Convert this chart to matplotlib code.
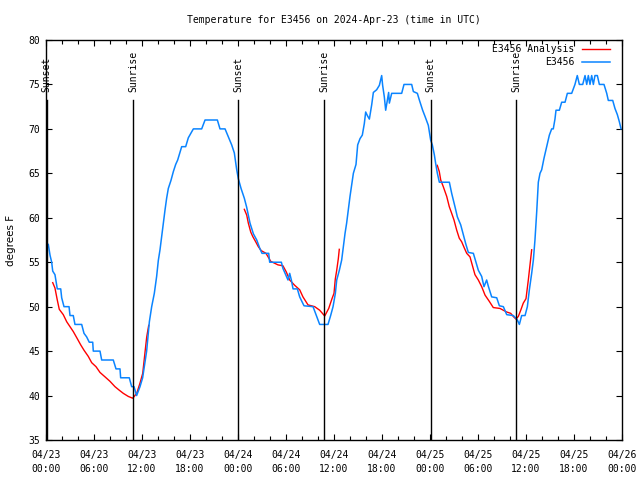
import pandas as pd
import matplotlib
matplotlib.use('Agg')
import matplotlib.pyplot as plt
import matplotlib.dates as mdates
import matplotlib.transforms as mtransforms

start = pd.Timestamp('2024-04-23 00:00')

# observed station temperature (hours since start, deg F)
obs_hours = [0.29, 0.5, 0.71, 0.84, 1.12, 1.33, 1.41, 1.84, 1.96, 2.25, 2.88, 3.0, 3.41, 3.62, 4.46,
             4.75, 5.08, 5.41, 5.84, 5.91, 6.75, 6.96, 8.41, 8.75, 9.25, 9.33, 10.41, 10.71, 11.0,
             11.33, 11.75, 12.08, 12.58, 12.79, 12.92, 13.21, 13.54, 13.83, 14.04, 14.25, 14.46,
             14.66, 14.88, 15.08, 15.29, 15.62, 15.92, 16.21, 16.46, 16.96, 17.46, 17.79, 18.42,
             19.46, 19.88, 21.42, 21.75, 22.38, 22.79, 23.21, 23.54, 23.84, 24.04, 24.38, 24.79,
             25.08, 25.5, 25.92, 26.34, 26.75, 27.0, 27.84, 27.96, 29.42, 29.62, 30.25, 30.46,
             30.67, 30.88, 31.42, 31.71, 32.25, 33.38, 33.79, 34.21, 35.25, 35.58, 35.88, 36.17,
             36.34, 36.67, 36.96, 37.17, 37.38, 37.58, 37.79, 38.0, 38.21, 38.42, 38.75, 38.96,
             39.25, 39.54, 39.79, 39.96, 40.17, 40.42, 40.71, 40.92, 41.33, 41.67, 41.96, 42.08,
             42.29, 42.46, 42.67, 42.83, 42.92, 43.21, 44.46, 44.75, 45.71, 45.92, 46.42, 46.67,
             47.08, 47.38, 47.79, 48.08, 48.29, 48.54, 48.71, 48.92, 49.17, 50.42, 50.71, 51.12,
             51.42, 51.84, 52.17, 52.46, 52.79, 53.42, 53.75, 54.04, 54.46, 54.75, 55.08, 55.29,
             55.71, 56.34, 56.67, 57.17, 57.59, 58.42, 58.92, 59.17, 59.46, 59.88, 60.17, 60.42,
             60.71, 60.92, 61.12, 61.34, 61.54, 61.75, 61.96, 62.25, 62.59, 62.92, 63.21, 63.41,
             63.62, 63.75, 64.17, 64.46, 64.88, 65.17, 65.71, 66.12, 66.41, 66.67, 67.09, 67.38,
             67.59, 67.79, 68.0, 68.21, 68.42, 68.62, 68.92, 69.17, 69.75, 70.09, 70.29, 70.84,
             71.12, 71.42, 71.67, 71.88]
obs_temps = [57, 55.8, 55, 54, 53.6, 52.4, 52, 52, 51, 50, 50, 49, 49, 48, 48,
             47, 46.6, 46, 46, 45, 45, 44, 44, 43, 43, 42, 42, 41, 41,
             40, 41, 42, 45, 47, 48.3, 50, 51.5, 53.4, 55.2, 56.4, 57.9,
             59.4, 60.9, 62.2, 63.3, 64.2, 65.2, 66, 66.5, 68, 68, 69, 70,
             70, 71, 71, 70, 70, 69.1, 68.2, 67.3, 65.4, 64.4, 63.3, 62.2,
             61.2, 59.4, 58.2, 57.5, 56.5, 56, 56, 55, 55, 54.3, 53, 53.75,
             53, 52, 52, 51.1, 50.1, 50, 49, 48, 48, 49, 50, 51.5,
             53, 54.1, 55.25, 56.75, 58.25, 59.4, 60.9, 62.4, 63.7, 65, 66, 68.2,
             68.9, 69.3, 70.6, 71.9, 71.5, 71.1, 72.7, 74.1, 74.4, 74.9, 76, 74.9,
             73.6, 72.1, 73.25, 74.1, 72.9, 74, 74, 75, 75, 74.2, 74, 73.25,
             72.1, 71.4, 70.4, 68.75, 68.2, 67.1, 66.1, 65, 64, 64, 62.75, 61.25,
             60.1, 59.2, 58.1, 57.1, 56.1, 56, 55, 54.1, 53.4, 52.25, 53, 52.3,
             51.1, 51, 50.1, 50, 49.1, 49, 48.5, 48, 49, 49, 50, 51.9,
             53.75, 55.25, 57.5, 60.7, 64, 65, 65.4, 66.7, 68, 69.3, 70, 70,
             71.1, 72.1, 72.1, 73, 73, 74, 74, 75, 76, 75, 75, 76,
             75, 76, 75, 76, 75, 76, 76, 75, 75, 74, 73.2, 73.2,
             72.3, 71.6, 70.8, 70]

# analysis runs (three overnight windows)
ana_hours_1 = [0.84, 1.12, 1.41, 1.66, 2.16, 2.59, 3.0, 3.41, 3.91, 4.34, 4.75, 5.29, 5.71, 6.25,
               6.75, 7.38, 8.0, 8.62, 9.16, 9.66, 10.29, 10.84, 11.34, 11.75, 12.09, 12.38, 12.59, 12.84]
ana_temps_1 = [52.7, 52.1, 50.75, 49.7, 49.1, 48.3, 47.75, 47.2, 46.4, 45.7, 45.1, 44.4, 43.7, 43.25,
               42.6, 42.1, 41.6, 41.0, 40.6, 40.25, 39.9, 39.7, 40.25, 41.4, 42.5, 44.9, 46.6, 47.9]
ana_hours_2 = [24.79, 25.09, 25.29, 25.59, 25.84, 26.21, 26.54, 26.91, 27.5, 28.09, 29.0, 29.62, 30.04,
               30.46, 31.09, 31.71, 32.12, 32.75, 33.59, 34.21, 34.84, 35.34, 35.75, 36.0, 36.16, 36.34,
               36.54, 36.66]
ana_temps_2 = [60.95, 60.3, 59.4, 58.4, 57.9, 57.3, 56.75, 56.3, 56.0, 55.1, 54.7, 54.6, 53.9,
               53.0, 52.4, 51.9, 51.1, 50.2, 50.0, 49.6, 48.95, 49.8, 50.9, 51.5, 53.1, 54.1,
               55.4, 56.45]
ana_hours_3 = [48.91, 49.16, 49.34, 49.66, 50.09, 50.41, 50.71, 51.0, 51.34, 51.66, 51.96, 52.29, 52.59,
               53.0, 53.34, 53.62, 54.04, 54.46, 54.88, 55.41, 55.91, 56.75, 57.16, 57.59, 58.09, 58.41,
               58.75, 59.04, 59.34, 59.66, 60.0, 60.29, 60.5, 60.71]
ana_temps_3 = [65.9, 65.2, 64.25, 63.5, 62.4, 61.25, 60.5, 59.75, 58.6, 57.7, 57.3, 56.6, 56.0,
               55.6, 54.5, 53.6, 53.0, 52.25, 51.3, 50.6, 49.9, 49.8, 49.6, 49.4, 49.25, 48.9,
               48.6, 48.9, 49.6, 50.4, 50.9, 53.0, 54.7, 56.4]

sunset_times = ['2024-04-23 00:04', '2024-04-24 00:02', '2024-04-25 00:04']
sunrise_times = ['2024-04-23 10:55', '2024-04-24 10:47', '2024-04-25 10:47']


def to_time(hours):
    return start + pd.to_timedelta(hours, unit='h')


mono = 'DejaVu Sans Mono'
fs = 7

fig = plt.figure(figsize=(6.4, 4.8), dpi=100)
ax = fig.add_axes([46 / 640, 40 / 480, 576 / 640, 400 / 480])

red = '#ff0000'
blue = '#0a84ff'
ax.plot(to_time(ana_hours_1), ana_temps_1, color=red, lw=1.0, label='E3456 Analysis')
ax.plot(to_time(ana_hours_2), ana_temps_2, color=red, lw=1.0)
ax.plot(to_time(ana_hours_3), ana_temps_3, color=red, lw=1.0)
ax.plot(to_time(obs_hours), obs_temps, color=blue, lw=1.1, label='E3456')

trans = mtransforms.blended_transform_factory(ax.transData, ax.transAxes)
for names, times in (('Sunset', sunset_times), ('Sunrise', sunrise_times)):
    for t in times:
        t = pd.Timestamp(t)
        ax.axvline(t, ymin=0, ymax=0.85, color='black', lw=1.0)
        ax.text(t, 0.87, names, transform=trans, rotation=90, ha='center', va='bottom',
                family=mono, fontsize=fs, clip_on=False)

ax.set_xlim(start, start + pd.Timedelta(hours=72))
ax.set_ylim(35, 80)
ax.set_yticks(range(35, 81, 5))
ax.xaxis.set_major_locator(mdates.HourLocator(byhour=[0, 6, 12, 18]))
ax.xaxis.set_minor_locator(mdates.HourLocator(interval=2))
ax.xaxis.set_major_formatter(mdates.DateFormatter('%m/%d\n%H:%M'))

ax.tick_params(which='both', direction='in', top=True, right=True, labelsize=fs)
ax.tick_params(which='major', length=4, width=0.8)
ax.tick_params(which='minor', length=3, width=0.8)
ax.tick_params(axis='x', pad=7)
ax.tick_params(axis='y', pad=4)
for lab in ax.get_xticklabels() + ax.get_yticklabels():
    lab.set_family(mono)
    lab.set_linespacing(1.55)
for s in ax.spines.values():
    s.set_linewidth(1.0)

ax.set_ylabel('degrees F', fontsize=7.5, labelpad=9)

fig.text(334 / 640, 1 - 20 / 480, 'Temperature for E3456 on 2024-Apr-23 (time in UTC)',
         ha='center', va='center', family=mono, fontsize=fs)

ax.legend(loc='upper right', bbox_to_anchor=(0.98, 0.99), frameon=False, markerfirst=False,
          prop={'family': mono, 'size': fs}, handlelength=2.9, handletextpad=0.8,
          labelspacing=0.35, borderaxespad=0, borderpad=0)

fig.savefig('out.png', dpi=100)
